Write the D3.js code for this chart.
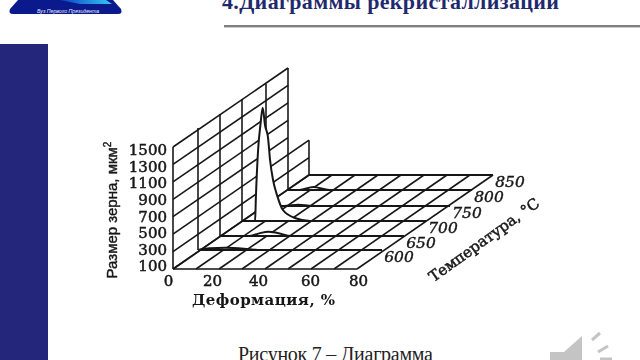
<!DOCTYPE html>
<html>
<head>
<meta charset="utf-8">
<script src="https://cdn.jsdelivr.net/npm/d3@7"></script>
<style>
    html, body { margin: 0; padding: 0; background: #fff; overflow: hidden; }
    svg { display: block; }
</style>
</head>
<body>
<div id="chart"></div>
<script>
// values
const deformTicks = [0, 20, 40, 60, 80];
const sizeTicks = [100, 300, 500, 700, 900, 1100, 1300, 1500];
const tempLabels = [600, 650, 700, 750, 800, 850];
const tempPlanes = [550, 600, 650, 700, 750, 800, 850];
const deformGrid = [0, 10, 20, 30, 40, 50, 60, 70, 80];

// grain size curves, one per temperature (deformation %, size)
const deform600 = [0, 5, 12, 20, 26, 80];
const size600 = [100, 120, 125, 115, 100, 100];
const deform650 = [0, 13, 17, 21, 25, 31, 80];
const size650 = [100, 100, 130, 150, 135, 100, 100];
const deform700 = [0, 5.7, 6, 7, 8, 9, 10, 11.3, 12.2, 13.5, 15.2, 17.8, 23, 29.6, 80];
const size700 = [100, 100, 341, 915, 1200, 1400, 1200, 1060, 800, 570, 400, 226, 134, 100, 100];
const deform750 = [0, 8, 14, 20, 80];
const size750 = [100, 100, 115, 100, 100];
const deform800 = [0, 5, 11, 18, 80];
const size800 = [100, 100, 135, 100, 100];
const deform850 = [0, 80];
const size850 = [100, 100];

const curves = [
    {temp: 850, deform: deform850, size: size850},
    {temp: 800, deform: deform800, size: size800},
    {temp: 750, deform: deform750, size: size750},
    {temp: 700, deform: deform700, size: size700},
    {temp: 650, deform: deform650, size: size650},
    {temp: 600, deform: deform600, size: size600}
];

const width = 640, height = 360;
const navy = "#24267c";
const ink = "#161616";

const svg = d3.select("#chart").append("svg")
    .attr("width", width)
    .attr("height", height);

const defs = svg.append("defs");
defs.append("filter").attr("id", "soft")
    .append("feGaussianBlur").attr("stdDeviation", 0.4);
const glow = defs.append("linearGradient").attr("id", "glow");
glow.append("stop").attr("offset", "0%").attr("stop-color", "#0b3fc4");
glow.append("stop").attr("offset", "100%").attr("stop-color", "#35c8f5");

// slide furniture
svg.append("rect").attr("x", 0).attr("y", 44).attr("width", 48).attr("height", 316).attr("fill", navy);
svg.append("rect").attr("x", 224).attr("y", 25).attr("width", 416).attr("height", 2.4).attr("fill", "#808080");

svg.append("text")
    .attr("x", 222).attr("y", 9)
    .attr("textLength", 337)
    .attr("font-family", "Liberation Serif")
    .attr("font-weight", "bold")
    .attr("font-size", 22)
    .attr("fill", "#1f2a6e")
    .text("4.Диаграммы рекристаллизации");

// logo
const logo = svg.append("g").attr("class", "logo");
logo.append("path")
    .attr("d", "M18,0 L113,0 L121,9 Q123,14 118,14 L13,14 Q8,14 10,9 Z")
    .attr("fill", "#0a1a8c");
logo.append("path")
    .attr("d", "M60,0 L106,0 L112,4 L80,4 Z")
    .attr("fill", "url(#glow)");
logo.append("text")
    .attr("x", 68).attr("y", 12.5)
    .attr("text-anchor", "middle")
    .attr("font-family", "Liberation Sans")
    .attr("font-style", "italic")
    .attr("font-size", 5.2)
    .attr("fill", "#e8ecff")
    .text("Вуз Первого Президента");

// caption and speaker
svg.append("text")
    .attr("x", 238).attr("y", 361)
    .attr("textLength", 195)
    .attr("font-family", "Liberation Serif")
    .attr("font-size", 20)
    .attr("fill", "#222")
    .text("Рисунок 7 – Диаграмма");

const speaker = svg.append("g").attr("class", "speaker");
speaker.append("path")
    .attr("d", "M550,352 L564,352 L582,336 L582,360 L550,360 Z")
    .attr("fill", "#c4c4c4");
speaker.append("path")
    .attr("d", "M592,340 L600,333 M598,352 L608,346 M600,359 L612,359")
    .attr("stroke", "#c4c4c4").attr("stroke-width", 3).attr("fill", "none");

// chart projection: temperature runs into the picture up and to the right
const xDeform = d3.scaleLinear().domain([0, 80]).range([173, 357]);
const xTemp = d3.scaleLinear().domain(tempPlanes).range([0, 25, 47, 69, 93, 115, 136]);
const yTemp = d3.scaleLinear().domain(tempPlanes).range([269, 250, 236, 221, 206, 190, 175]);
const heightSize = d3.scaleLinear().domain([100, 1500]).range([0, 122]);

const px = (deform, temp) => xDeform(deform) + xTemp(temp);
const py = (size, temp) => yTemp(temp) - heightSize(size);

// the back wall stops lower at the last plane
const wallTop = temp => temp < 850 ? 1500 : 500;

const chart = svg.append("g").attr("filter", "url(#soft)");
const grid = chart.append("g")
    .attr("fill", "none")
    .attr("stroke", ink)
    .attr("stroke-width", 1.6);

const segment = d3.line();

// floor hatching
deformGrid.forEach((d) => {
    grid.append("path").attr("d", segment([[px(d, 550), py(100, 550)], [px(d, 850), py(100, 850)]]));
});
grid.append("path").attr("d", segment([[px(0, 550), py(100, 550)], [px(80, 550), py(100, 550)]]));

// wall verticals and size lines
tempPlanes.forEach((t) => {
    grid.append("path").attr("d", segment([[px(0, t), py(100, t)], [px(0, t), py(wallTop(t), t)]]));
});
sizeTicks.forEach((s) => {
    let last = d3.max(tempPlanes.filter(t => wallTop(t) >= s));
    grid.append("path").attr("d", segment([[px(0, 550), py(s, 550)], [px(0, last), py(s, last)]]));
});

// curves back to front, white underneath so they hide the grid
curves.forEach((c) => {
    let points = c.deform.map((d, i) => [d, c.size[i]]);
    let area = d3.area()
        .x(p => px(p[0], c.temp))
        .y0(py(100, c.temp))
        .y1(p => py(p[1], c.temp))
        .curve(d3.curveMonotoneX);
    let line = d3.line()
        .x(p => px(p[0], c.temp))
        .y(p => py(p[1], c.temp))
        .curve(d3.curveMonotoneX);
    chart.append("path").attr("d", area(points)).attr("fill", "#fff");
    chart.append("path").attr("d", line(points))
        .attr("fill", "none")
        .attr("stroke", ink)
        .attr("stroke-width", 2);
    chart.append("path")
        .attr("d", segment([[px(0, c.temp), py(100, c.temp)], [px(80, c.temp), py(100, c.temp)]]))
        .attr("stroke", ink)
        .attr("stroke-width", 2.2);
});

// axes
const tickFont = "DejaVu Serif";
const yLabels = d3.scaleLinear().domain([100, 1500]).range([266, 150]);
const xLabels = d3.scaleLinear().domain(deformTicks).range([168, 212, 258, 310, 358]);

const yAxis = chart.append("g")
    .attr("transform", "translate(167,0)")
    .call(d3.axisLeft(yLabels).tickValues(sizeTicks).tickSize(0).tickPadding(0).tickFormat(d3.format("d")));
const xAxis = chart.append("g")
    .attr("transform", "translate(0,275)")
    .call(d3.axisBottom(xLabels).tickValues(deformTicks).tickSize(0).tickPadding(0).tickFormat(d3.format("d")));
[yAxis, xAxis].forEach((axis) => {
    axis.select(".domain").remove();
    axis.selectAll("text")
        .attr("font-family", tickFont)
        .attr("font-size", 15)
        .attr("fill", ink)
        .attr("stroke", ink)
        .attr("stroke-width", 0.5);
});

tempLabels.forEach((t) => {
    chart.append("text")
        .attr("x", px(80, t) + 17)
        .attr("y", py(100, t) + 12)
        .attr("text-anchor", "middle")
        .attr("font-family", tickFont)
        .attr("font-style", "italic")
        .attr("font-size", 15.5)
        .attr("fill", ink)
        .attr("stroke", ink)
        .attr("stroke-width", 0.4)
        .text(t);
});

// axis titles
const yTitle = chart.append("text")
    .attr("transform", "translate(117,210) rotate(-90)")
    .attr("text-anchor", "middle")
    .attr("font-family", "Liberation Sans")
    .attr("font-size", 15)
    .attr("fill", ink)
    .attr("stroke", ink)
    .attr("stroke-width", 0.4);
yTitle.append("tspan").text("Размер зерна, мкм");
yTitle.append("tspan").attr("dy", -6).attr("font-size", 10).text("2");

chart.append("text")
    .attr("x", 192).attr("y", 305)
    .attr("textLength", 143)
    .attr("font-family", tickFont)
    .attr("font-weight", "bold")
    .attr("font-size", 15)
    .attr("fill", ink)
    .text("Деформация, %");

chart.append("text")
    .attr("transform", "translate(487,244) rotate(-35.7)")
    .attr("text-anchor", "middle")
    .attr("textLength", 132)
    .attr("font-family", tickFont)
    .attr("font-size", 15)
    .attr("fill", ink)
    .attr("stroke", ink)
    .attr("stroke-width", 0.5)
    .text("Температура, °C");
</script>
</body>
</html>
